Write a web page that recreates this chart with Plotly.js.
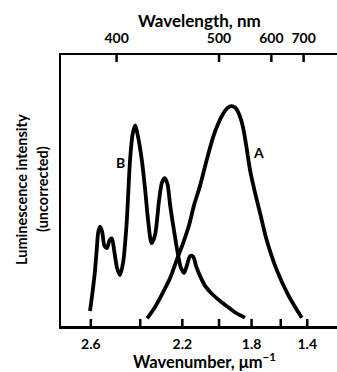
<!DOCTYPE html>
<html><head><meta charset="utf-8">
<script src="https://cdn.plot.ly/plotly-3.0.1.min.js"></script>
<style>html,body{margin:0;padding:0;background:#fff;}#chart{width:337px;height:372px;}</style>
</head><body><div id="chart"></div>
<script>
// Curve A (wavenumber in µm^-1, relative intensity)
const waveA = [2.369,2.333,2.295,2.261,2.228,2.196,2.165,2.139,2.107,2.070,2.034,2.004,1.977,1.953,1.929,1.904,1.880,1.855,1.832,1.810,1.777,1.744,1.699,1.629,1.545,1.443];
const intA  = [2.8,7.0,12.5,17.7,24.4,30.6,37.3,44.6,51.7,61.3,69.7,74.8,78.2,80.3,81.1,80.6,78.2,73.4,65.7,57.6,49.1,41.7,31.7,20.7,11.4,3.0];
// Curve B
const waveB = [2.603,2.595,2.586,2.578,2.572,2.565,2.557,2.548,2.538,2.528,2.519,2.510,2.498,2.486,2.473,2.459,2.444,2.433,2.422,2.412,2.393,2.378,2.364,2.349,2.333,2.314,2.300,2.287,2.274,2.261,2.245,2.220,2.207,2.191,2.176,2.160,2.144,2.128,2.107,2.079,2.040,1.994,1.947,1.898,1.842];
const intB  = [5.5,11.4,18.8,28.0,34.7,36.7,34.7,29.5,28.8,31.7,32.3,28.0,21.4,18.8,23.6,37.3,61.3,70.8,74.0,70.8,61.3,50.2,38.4,30.6,33.6,46.5,53.1,54.6,52.4,44.6,36.6,25.6,21.4,19.6,22.5,25.8,25.6,22.1,18.5,14.8,11.8,9.2,7.0,4.8,3.1];

const wavenumberTicks  = [2.6, 2.2, 1.8, 1.4];
const wavenumberLabels = ['2.6', '2.2', '1.8', '1.4'];
const wavenumberMinor  = [2.4, 2.0, 1.6];
const wavelengthTicks  = [400, 500, 600, 700];
const wavelengthLabels = ['400', '500', '600', '700'];
const wavenumberRange  = [2.705, 1.152];
const intensityRange   = [0, 100];
const TICK_LEN = 2.6; // tick mark length, in intensity units (~7 px)
const curveLabels = [
  {text: 'A', wave: 1.755, intensity: 64.2},
  {text: 'B', wave: 2.486, intensity: 60.5}
];
const titles = {
  top: 'Wavelength, nm',
  bottom: 'Wavenumber, μm<sup>−1</sup>',
  left1: 'Luminescence intensity',
  left2: '(uncorrected)'
};

// The printed abscissa is compressed towards the red end; it behaves like
// a logarithmic scale in (SCALE_ORIGIN - wavenumber).
const SCALE_ORIGIN = 3.66;
const toAxis = v => SCALE_ORIGIN - v;
const logPos = v => Math.log10(toAxis(v));

const FONT = 'Lato, sans-serif';
const xr = [logPos(wavenumberRange[0]), logPos(wavenumberRange[1])];

// inward tick marks drawn as data segments on the axes
const bottomTickX = [], bottomTickY = [], topTickX = [], topTickY = [];
wavenumberTicks.concat(wavenumberMinor).forEach(t => {
  bottomTickX.push(toAxis(t), toAxis(t), null);
  bottomTickY.push(intensityRange[0], intensityRange[0] + TICK_LEN, null);
});
wavelengthTicks.forEach(l => {
  topTickX.push(toAxis(1000 / l), toAxis(1000 / l), null);
  topTickY.push(intensityRange[1], intensityRange[1] - TICK_LEN, null);
});

const curveLine = {color: '#000', width: 3.8, shape: 'spline', smoothing: 0.8};
const tickLine = {color: '#000', width: 2.5};
const traces = [
  {x: waveA.map(toAxis), y: intA, type: 'scatter', mode: 'lines', line: curveLine, hoverinfo: 'skip', name: 'A'},
  {x: waveB.map(toAxis), y: intB, type: 'scatter', mode: 'lines', line: Object.assign({}, curveLine), hoverinfo: 'skip', name: 'B'},
  {x: bottomTickX, y: bottomTickY, type: 'scatter', mode: 'lines', line: tickLine, connectgaps: false, hoverinfo: 'skip', cliponaxis: false},
  {x: topTickX, y: topTickY, xaxis: 'x2', yaxis: 'y', type: 'scatter', mode: 'lines', line: Object.assign({}, tickLine), connectgaps: false, hoverinfo: 'skip', cliponaxis: false}
];

const axisCommon = {
  type: 'log', range: xr, ticks: '', showline: true, linewidth: 2.5, linecolor: '#000',
  showgrid: false, zeroline: false, ticklabelstandoff: 4,
  tickfont: {family: FONT, size: 14, color: '#000', weight: 'bold'}, fixedrange: true
};

const titleFont = size => ({family: FONT, size: size, color: '#000', weight: 'bold'});
const annotations = curveLabels.map(c => ({
  x: logPos(c.wave), y: c.intensity, xref: 'x', yref: 'y', text: c.text, showarrow: false,
  font: titleFont(14)
})).concat([
  {x: 0.502, y: 1.129, xref: 'paper', yref: 'paper', text: titles.top, showarrow: false, xanchor: 'center', yanchor: 'middle', font: titleFont(17)},
  {x: 0.52, y: -0.128, xref: 'paper', yref: 'paper', text: titles.bottom, showarrow: false, xanchor: 'center', yanchor: 'middle', font: titleFont(16.5)},
  {x: -0.145, y: 0.5055, xref: 'paper', yref: 'paper', text: titles.left1, showarrow: false, textangle: -90, xanchor: 'center', yanchor: 'middle', font: titleFont(14.5)},
  {x: -0.0688, y: 0.5055, xref: 'paper', yref: 'paper', text: titles.left2, showarrow: false, textangle: -90, xanchor: 'center', yanchor: 'middle', font: titleFont(14.5)}
]);

const layout = {
  width: 337, height: 372,
  margin: {l: 61, r: 0, t: 55, b: 46, pad: 0},
  paper_bgcolor: '#fff', plot_bgcolor: '#fff',
  showlegend: false,
  xaxis: Object.assign({}, axisCommon, {
    tickmode: 'array', tickvals: wavenumberTicks.map(toAxis), ticktext: wavenumberLabels
  }),
  xaxis2: Object.assign({}, axisCommon, {
    overlaying: 'x', side: 'top', anchor: 'y',
    tickmode: 'array', tickvals: wavelengthTicks.map(l => toAxis(1000 / l)), ticktext: wavelengthLabels
  }),
  yaxis: {
    range: intensityRange, showline: true, linewidth: 2.5, linecolor: '#000', ticks: '',
    showticklabels: false, showgrid: false, zeroline: false, fixedrange: true
  },
  annotations: annotations
};

Plotly.newPlot('chart', traces, layout, {displayModeBar: false, staticPlot: true});
</script>
</body></html>
